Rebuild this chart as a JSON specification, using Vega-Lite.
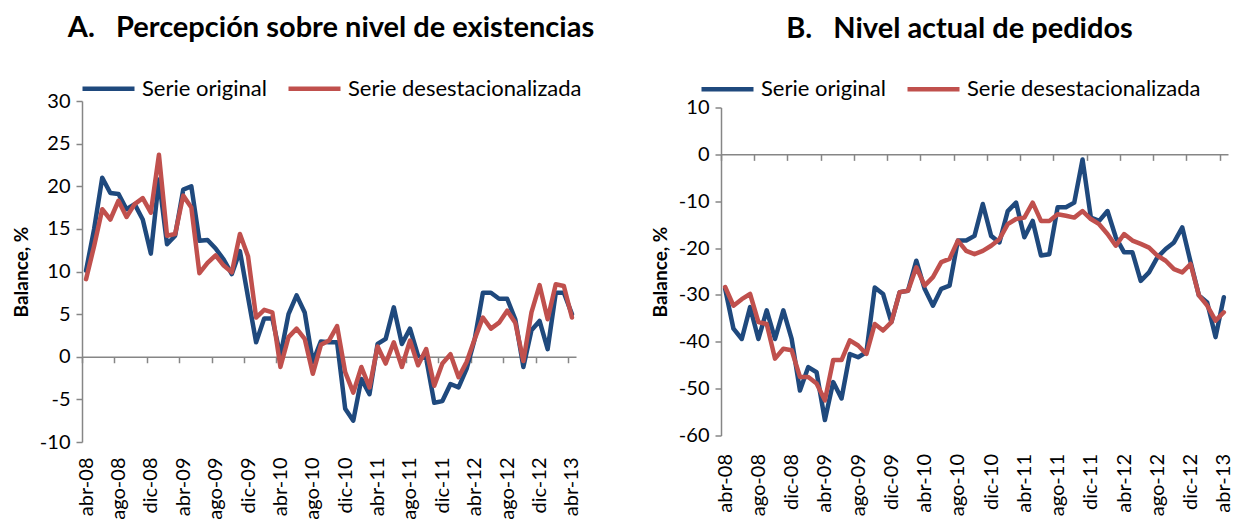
{
  "$schema": "https://vega.github.io/schema/vega-lite/v6.json",
  "padding": {"left": 12, "top": 14, "right": 5, "bottom": 0},
  "bounds": "flush",
  "center": true,
  "spacing": 145,
  "config": {
    "font": "Lato",
    "view": {"stroke": null},
    "axis": {"grid": false, "domainColor": "#868686", "tickColor": "#868686", "labelColor": "#000000", "titleColor": "#000000", "domainWidth": 1.5, "tickWidth": 1.5},
    "legend": {"labelColor": "#000000"}
  },
  "resolve": {"scale": {"color": "independent"}, "legend": {"color": "independent"}},
  "datasets": {
    "existencias": [
      {"mes": "abr-08", "Serie original": 10.1, "Serie desestacionalizada": 9.1},
      {"mes": "may-08", "Serie original": 15.0, "Serie desestacionalizada": 13.0},
      {"mes": "jun-08", "Serie original": 21.0, "Serie desestacionalizada": 17.3},
      {"mes": "jul-08", "Serie original": 19.2, "Serie desestacionalizada": 16.1},
      {"mes": "ago-08", "Serie original": 19.1, "Serie desestacionalizada": 18.3},
      {"mes": "sep-08", "Serie original": 17.3, "Serie desestacionalizada": 16.4},
      {"mes": "oct-08", "Serie original": 17.9, "Serie desestacionalizada": 17.9},
      {"mes": "nov-08", "Serie original": 16.1, "Serie desestacionalizada": 18.6},
      {"mes": "dic-08", "Serie original": 12.1, "Serie desestacionalizada": 16.9},
      {"mes": "ene-09", "Serie original": 20.8, "Serie desestacionalizada": 23.7},
      {"mes": "feb-09", "Serie original": 13.2, "Serie desestacionalizada": 14.2},
      {"mes": "mar-09", "Serie original": 14.2, "Serie desestacionalizada": 14.4},
      {"mes": "abr-09", "Serie original": 19.6, "Serie desestacionalizada": 18.9},
      {"mes": "may-09", "Serie original": 20.0, "Serie desestacionalizada": 17.5},
      {"mes": "jun-09", "Serie original": 13.6, "Serie desestacionalizada": 9.8},
      {"mes": "jul-09", "Serie original": 13.7, "Serie desestacionalizada": 11.0},
      {"mes": "ago-09", "Serie original": 12.7, "Serie desestacionalizada": 11.9},
      {"mes": "sep-09", "Serie original": 11.4, "Serie desestacionalizada": 10.7},
      {"mes": "oct-09", "Serie original": 9.7, "Serie desestacionalizada": 9.9},
      {"mes": "nov-09", "Serie original": 12.4, "Serie desestacionalizada": 14.4},
      {"mes": "dic-09", "Serie original": 7.0, "Serie desestacionalizada": 11.8},
      {"mes": "ene-10", "Serie original": 1.7, "Serie desestacionalizada": 4.6},
      {"mes": "feb-10", "Serie original": 4.5, "Serie desestacionalizada": 5.5},
      {"mes": "mar-10", "Serie original": 4.5, "Serie desestacionalizada": 5.2},
      {"mes": "abr-10", "Serie original": 0.1, "Serie desestacionalizada": -1.2},
      {"mes": "may-10", "Serie original": 5.0, "Serie desestacionalizada": 2.3},
      {"mes": "jun-10", "Serie original": 7.2, "Serie desestacionalizada": 3.3},
      {"mes": "jul-10", "Serie original": 5.2, "Serie desestacionalizada": 2.1},
      {"mes": "ago-10", "Serie original": -0.6, "Serie desestacionalizada": -2.0},
      {"mes": "sep-10", "Serie original": 1.8, "Serie desestacionalizada": 1.4},
      {"mes": "oct-10", "Serie original": 1.7, "Serie desestacionalizada": 1.9},
      {"mes": "nov-10", "Serie original": 1.7, "Serie desestacionalizada": 3.6},
      {"mes": "dic-10", "Serie original": -6.1, "Serie desestacionalizada": -1.8},
      {"mes": "ene-11", "Serie original": -7.5, "Serie desestacionalizada": -4.2},
      {"mes": "feb-11", "Serie original": -2.6, "Serie desestacionalizada": -1.2},
      {"mes": "mar-11", "Serie original": -4.4, "Serie desestacionalizada": -3.6},
      {"mes": "abr-11", "Serie original": 1.5, "Serie desestacionalizada": 1.2},
      {"mes": "may-11", "Serie original": 2.1, "Serie desestacionalizada": -0.8},
      {"mes": "jun-11", "Serie original": 5.8, "Serie desestacionalizada": 1.7},
      {"mes": "jul-11", "Serie original": 1.5, "Serie desestacionalizada": -1.2},
      {"mes": "ago-11", "Serie original": 3.3, "Serie desestacionalizada": 1.9},
      {"mes": "sep-11", "Serie original": 0.1, "Serie desestacionalizada": -1.0},
      {"mes": "oct-11", "Serie original": -0.2, "Serie desestacionalizada": 0.9},
      {"mes": "nov-11", "Serie original": -5.4, "Serie desestacionalizada": -3.4},
      {"mes": "dic-11", "Serie original": -5.2, "Serie desestacionalizada": -0.8},
      {"mes": "ene-12", "Serie original": -3.2, "Serie desestacionalizada": 0.3},
      {"mes": "feb-12", "Serie original": -3.6, "Serie desestacionalizada": -2.4},
      {"mes": "mar-12", "Serie original": -1.4, "Serie desestacionalizada": -0.6},
      {"mes": "abr-12", "Serie original": 2.1, "Serie desestacionalizada": 2.1},
      {"mes": "may-12", "Serie original": 7.5, "Serie desestacionalizada": 4.6},
      {"mes": "jun-12", "Serie original": 7.5, "Serie desestacionalizada": 3.3},
      {"mes": "jul-12", "Serie original": 6.8, "Serie desestacionalizada": 4.0},
      {"mes": "ago-12", "Serie original": 6.8, "Serie desestacionalizada": 5.4},
      {"mes": "sep-12", "Serie original": 4.4, "Serie desestacionalizada": 4.0},
      {"mes": "oct-12", "Serie original": -1.2, "Serie desestacionalizada": -0.5},
      {"mes": "nov-12", "Serie original": 3.1, "Serie desestacionalizada": 5.2},
      {"mes": "dic-12", "Serie original": 4.2, "Serie desestacionalizada": 8.4},
      {"mes": "ene-13", "Serie original": 0.9, "Serie desestacionalizada": 4.4},
      {"mes": "feb-13", "Serie original": 7.5, "Serie desestacionalizada": 8.5},
      {"mes": "mar-13", "Serie original": 7.5, "Serie desestacionalizada": 8.3},
      {"mes": "abr-13", "Serie original": 5.0, "Serie desestacionalizada": 4.6}
    ],
    "pedidos": [
      {"mes": "abr-08", "Serie original": -28.7, "Serie desestacionalizada": -28.3},
      {"mes": "may-08", "Serie original": -37.2, "Serie desestacionalizada": -32.3},
      {"mes": "jun-08", "Serie original": -39.4, "Serie desestacionalizada": -30.9},
      {"mes": "jul-08", "Serie original": -32.6, "Serie desestacionalizada": -29.8},
      {"mes": "ago-08", "Serie original": -39.4, "Serie desestacionalizada": -35.8},
      {"mes": "sep-08", "Serie original": -33.3, "Serie desestacionalizada": -36.2},
      {"mes": "oct-08", "Serie original": -39.4, "Serie desestacionalizada": -43.6},
      {"mes": "nov-08", "Serie original": -33.3, "Serie desestacionalizada": -41.5},
      {"mes": "dic-08", "Serie original": -39.4, "Serie desestacionalizada": -41.8},
      {"mes": "ene-09", "Serie original": -50.4, "Serie desestacionalizada": -47.5},
      {"mes": "feb-09", "Serie original": -45.4, "Serie desestacionalizada": -47.5},
      {"mes": "mar-09", "Serie original": -46.5, "Serie desestacionalizada": -48.9},
      {"mes": "abr-09", "Serie original": -56.7, "Serie desestacionalizada": -52.5},
      {"mes": "may-09", "Serie original": -48.6, "Serie desestacionalizada": -43.9},
      {"mes": "jun-09", "Serie original": -52.1, "Serie desestacionalizada": -43.9},
      {"mes": "jul-09", "Serie original": -42.6, "Serie desestacionalizada": -39.7},
      {"mes": "ago-09", "Serie original": -43.3, "Serie desestacionalizada": -40.8},
      {"mes": "sep-09", "Serie original": -42.2, "Serie desestacionalizada": -42.6},
      {"mes": "oct-09", "Serie original": -28.4, "Serie desestacionalizada": -36.2},
      {"mes": "nov-09", "Serie original": -29.8, "Serie desestacionalizada": -37.6},
      {"mes": "dic-09", "Serie original": -35.8, "Serie desestacionalizada": -35.8},
      {"mes": "ene-10", "Serie original": -29.4, "Serie desestacionalizada": -29.4},
      {"mes": "feb-10", "Serie original": -29.1, "Serie desestacionalizada": -29.1},
      {"mes": "mar-10", "Serie original": -22.7, "Serie desestacionalizada": -24.1},
      {"mes": "abr-10", "Serie original": -28.7, "Serie desestacionalizada": -28.0},
      {"mes": "may-10", "Serie original": -32.3, "Serie desestacionalizada": -26.2},
      {"mes": "jun-10", "Serie original": -28.7, "Serie desestacionalizada": -23.0},
      {"mes": "jul-10", "Serie original": -28.0, "Serie desestacionalizada": -22.3},
      {"mes": "ago-10", "Serie original": -18.4, "Serie desestacionalizada": -18.4},
      {"mes": "sep-10", "Serie original": -18.4, "Serie desestacionalizada": -20.6},
      {"mes": "oct-10", "Serie original": -17.4, "Serie desestacionalizada": -21.3},
      {"mes": "nov-10", "Serie original": -10.6, "Serie desestacionalizada": -20.6},
      {"mes": "dic-10", "Serie original": -17.4, "Serie desestacionalizada": -19.5},
      {"mes": "ene-11", "Serie original": -18.8, "Serie desestacionalizada": -18.1},
      {"mes": "feb-11", "Serie original": -12.1, "Serie desestacionalizada": -14.9},
      {"mes": "mar-11", "Serie original": -10.3, "Serie desestacionalizada": -13.8},
      {"mes": "abr-11", "Serie original": -17.7, "Serie desestacionalizada": -13.5},
      {"mes": "may-11", "Serie original": -14.2, "Serie desestacionalizada": -10.3},
      {"mes": "jun-11", "Serie original": -21.6, "Serie desestacionalizada": -14.2},
      {"mes": "jul-11", "Serie original": -21.3, "Serie desestacionalizada": -14.2},
      {"mes": "ago-11", "Serie original": -11.3, "Serie desestacionalizada": -12.8},
      {"mes": "sep-11", "Serie original": -11.3, "Serie desestacionalizada": -13.1},
      {"mes": "oct-11", "Serie original": -10.3, "Serie desestacionalizada": -13.5},
      {"mes": "nov-11", "Serie original": -1.1, "Serie desestacionalizada": -12.1},
      {"mes": "dic-11", "Serie original": -13.5, "Serie desestacionalizada": -13.8},
      {"mes": "ene-12", "Serie original": -14.2, "Serie desestacionalizada": -14.9},
      {"mes": "feb-12", "Serie original": -12.1, "Serie desestacionalizada": -17.0},
      {"mes": "mar-12", "Serie original": -17.7, "Serie desestacionalizada": -19.5},
      {"mes": "abr-12", "Serie original": -20.9, "Serie desestacionalizada": -17.0},
      {"mes": "may-12", "Serie original": -20.9, "Serie desestacionalizada": -18.4},
      {"mes": "jun-12", "Serie original": -27.0, "Serie desestacionalizada": -19.1},
      {"mes": "jul-12", "Serie original": -25.2, "Serie desestacionalizada": -19.9},
      {"mes": "ago-12", "Serie original": -22.0, "Serie desestacionalizada": -21.6},
      {"mes": "sep-12", "Serie original": -20.2, "Serie desestacionalizada": -22.7},
      {"mes": "oct-12", "Serie original": -18.8, "Serie desestacionalizada": -24.5},
      {"mes": "nov-12", "Serie original": -15.6, "Serie desestacionalizada": -25.2},
      {"mes": "dic-12", "Serie original": -23.0, "Serie desestacionalizada": -23.4},
      {"mes": "ene-13", "Serie original": -30.1, "Serie desestacionalizada": -30.1},
      {"mes": "feb-13", "Serie original": -31.6, "Serie desestacionalizada": -32.3},
      {"mes": "mar-13", "Serie original": -39.0, "Serie desestacionalizada": -35.5},
      {"mes": "abr-13", "Serie original": -30.5, "Serie desestacionalizada": -33.7}
    ]
  },
  "hconcat": [
    {
      "width": 494,
      "height": 341,
      "title": {"text": "A.\u00a0\u00a0\u00a0Percepción sobre nivel de existencias", "fontSize": 29, "fontWeight": "bold", "anchor": "middle", "frame": "group", "offset": 17, "dx": 2, "color": "#000000"},
      "data": {"name": "existencias"},
      "transform": [{"fold": ["Serie original", "Serie desestacionalizada"], "as": ["serie", "valor"]}],
      "layer": [
        {
          "mark": {"type": "line", "strokeWidth": 4.5, "strokeJoin": "round", "strokeCap": "round"},
          "encoding": {
            "x": {"field": "mes", "type": "ordinal", "sort": null, "scale": {"type": "point", "padding": 0.5},
              "axis": {"orient": "bottom", "offset": -85.25, "values": ["abr-08","ago-08","dic-08","abr-09","ago-09","dic-09","abr-10","ago-10","dic-10","abr-11","ago-11","dic-11","abr-12","ago-12","dic-12","abr-13"], "labels": false, "ticks": true, "tickSize": 6, "tickOffset": -4.05, "domain": true, "title": null}},
            "y": {"field": "valor", "type": "quantitative", "scale": {"domain": [-10, 30], "nice": false, "zero": false},
              "axis": {"values": [-10, -5, 0, 5, 10, 15, 20, 25, 30], "labelExpr": "replace(datum.label, '\u2212', '-')", "title": "Balance, %", "titleFontSize": 19, "titleFontWeight": "bold", "labelFontSize": 20, "tickSize": 6, "labelPadding": 6, "titlePadding": 8}},
            "color": {"field": "serie", "type": "nominal",
              "scale": {"domain": ["Serie original", "Serie desestacionalizada"], "range": ["#1F497D", "#C0504D"]},
              "legend": {"orient": "none", "legendX": -2, "legendY": -41, "direction": "horizontal", "title": null, "symbolType": "stroke", "symbolSize": 2704, "symbolStrokeWidth": 4.5, "labelFontSize": 22, "labelLimit": 500, "columnPadding": 12, "labelOffset": 5}}
          }
        },
        {
          "mark": {"type": "point", "opacity": 0},
          "encoding": {
            "x": {"field": "mes", "type": "ordinal", "sort": null,
              "axis": {"orient": "bottom", "values": ["abr-08","ago-08","dic-08","abr-09","ago-09","dic-09","abr-10","ago-10","dic-10","abr-11","ago-11","dic-11","abr-12","ago-12","dic-12","abr-13"], "labelAngle": 270, "labelFontSize": 20, "labelPadding": 15, "ticks": false, "domain": false, "title": null}}
          }
        }
      ],
      "resolve": {"axis": {"x": "independent"}}
    },
    {
      "width": 507,
      "height": 328,
      "title": {"text": "B.\u00a0\u00a0\u00a0Nivel actual de pedidos", "fontSize": 29, "fontWeight": "bold", "anchor": "middle", "frame": "group", "offset": 17, "dx": -15, "color": "#000000"},
      "data": {"name": "pedidos"},
      "transform": [{"fold": ["Serie original", "Serie desestacionalizada"], "as": ["serie", "valor"]}],
      "layer": [
        {
          "mark": {"type": "line", "strokeWidth": 4.5, "strokeJoin": "round", "strokeCap": "round"},
          "encoding": {
            "x": {"field": "mes", "type": "ordinal", "sort": null, "scale": {"type": "point", "padding": 0.5},
              "axis": {"orient": "bottom", "offset": -281.14, "values": ["abr-08","ago-08","dic-08","abr-09","ago-09","dic-09","abr-10","ago-10","dic-10","abr-11","ago-11","dic-11","abr-12","ago-12","dic-12","abr-13"], "labels": false, "ticks": true, "tickSize": 6, "tickOffset": -4.16, "domain": true, "title": null}},
            "y": {"field": "valor", "type": "quantitative", "scale": {"domain": [-60, 10], "nice": false, "zero": false},
              "axis": {"values": [-60, -50, -40, -30, -20, -10, 0, 10], "labelExpr": "replace(datum.label, '\u2212', '-')", "title": "Balance, %", "titleFontSize": 19, "titleFontWeight": "bold", "labelFontSize": 20, "tickSize": 6, "labelPadding": 6, "titlePadding": 8}},
            "color": {"field": "serie", "type": "nominal",
              "scale": {"domain": ["Serie original", "Serie desestacionalizada"], "range": ["#1F497D", "#C0504D"]},
              "legend": {"orient": "none", "legendX": -22, "legendY": -47, "direction": "horizontal", "title": null, "symbolType": "stroke", "symbolSize": 2704, "symbolStrokeWidth": 4.5, "labelFontSize": 22, "labelLimit": 500, "columnPadding": 12, "labelOffset": 5}}
          }
        },
        {
          "mark": {"type": "point", "opacity": 0},
          "encoding": {
            "x": {"field": "mes", "type": "ordinal", "sort": null,
              "axis": {"orient": "bottom", "values": ["abr-08","ago-08","dic-08","abr-09","ago-09","dic-09","abr-10","ago-10","dic-10","abr-11","ago-11","dic-11","abr-12","ago-12","dic-12","abr-13"], "labelAngle": 270, "labelFontSize": 20, "labelPadding": 18, "ticks": false, "domain": false, "title": null}}
          }
        }
      ],
      "resolve": {"axis": {"x": "independent"}}
    }
  ]
}
